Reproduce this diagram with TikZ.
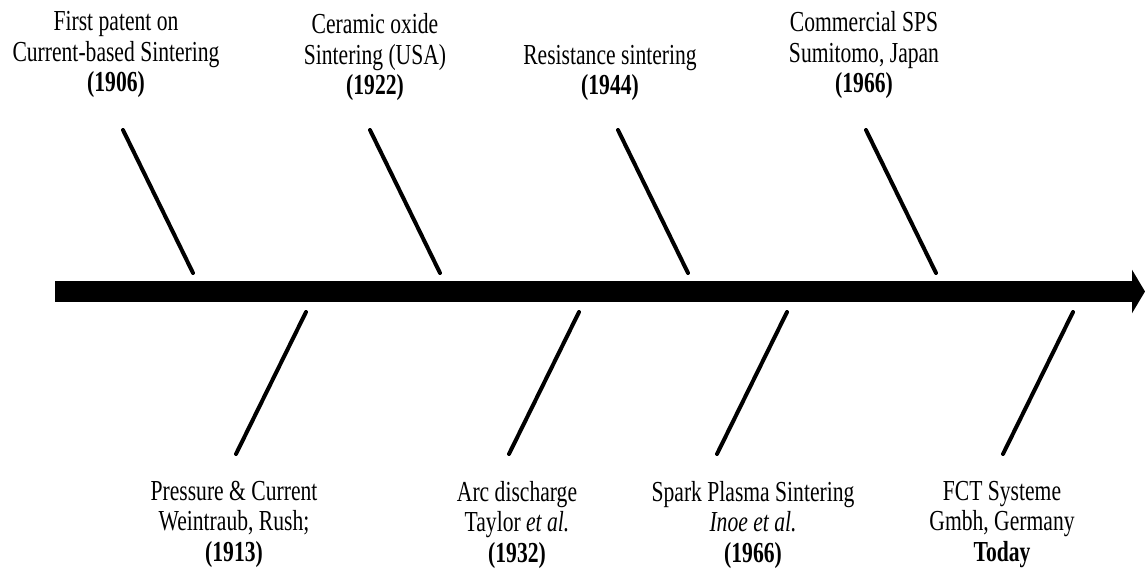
\documentclass[tikz,border=0pt]{standalone}
\usepackage{fontspec}
\setmainfont{Liberation Serif}[FakeStretch=0.745]
\usetikzlibrary{arrows.meta}

\begin{document}
\begin{tikzpicture}[x=1pt,y=-1pt,
		event/.style={align=center,inner sep=0pt,font=\fontsize{29}{30.5}\selectfont},
		above event/.style={event,anchor=south},
		below event/.style={event,anchor=north},
		tick/.style={line width=4pt,line cap=round},
		timeline/.style={line width=21pt,-{Triangle[length=13pt,width=43pt]}}]
	\useasboundingbox (0,0) rectangle (1145,578);
	% time axis
	\coordinate (t0) at (55,291.5);
	\coordinate (t1) at (1145,291.5);
	\draw[timeline] (t0) -- (t1);
	% events above the axis
	\node[above event] (e1906) at (116,98) {First patent on\\Current-based Sintering\\\textbf{(1906)}};
	\node[above event] (e1922) at (375,101) {Ceramic oxide\\Sintering (USA)\\\textbf{(1922)}};
	\node[above event] (e1944) at (610,101) {Resistance sintering\\\textbf{(1944)}};
	\node[above event] (e1966c) at (864,99) {Commercial SPS\\Sumitomo, Japan\\\textbf{(1966)}};
	% events below the axis
	\node[below event] (e1913) at (234,481) {Pressure \& Current\\Weintraub, Rush;\\\textbf{(1913)}};
	\node[below event] (e1932) at (517,481) {Arc discharge\\Taylor \textit{et al.}\\\textbf{(1932)}};
	\node[below event] (e1966s) at (753,481) {Spark Plasma Sintering\\\textit{Inoe et al.}\\\textbf{(1966)}};
	\node[below event] (today) at (1002,481) {FCT Systeme\\Gmbh, Germany\\\textbf{Today}};
	% ticks
	\foreach \name/\x in {a/123,b/370,c/618,d/866}{
		\coordinate (\name top) at (\x,130);
		\coordinate (\name axis) at (\x+70,273);
		\draw[tick] (\name top) -- (\name axis);
	}
	\foreach \name/\x in {e/306,f/579,g/787,h/1073}{
		\coordinate (\name axis) at (\x,312);
		\coordinate (\name bot) at (\x-70,454);
		\draw[tick] (\name axis) -- (\name bot);
	}
\end{tikzpicture}
\end{document}
